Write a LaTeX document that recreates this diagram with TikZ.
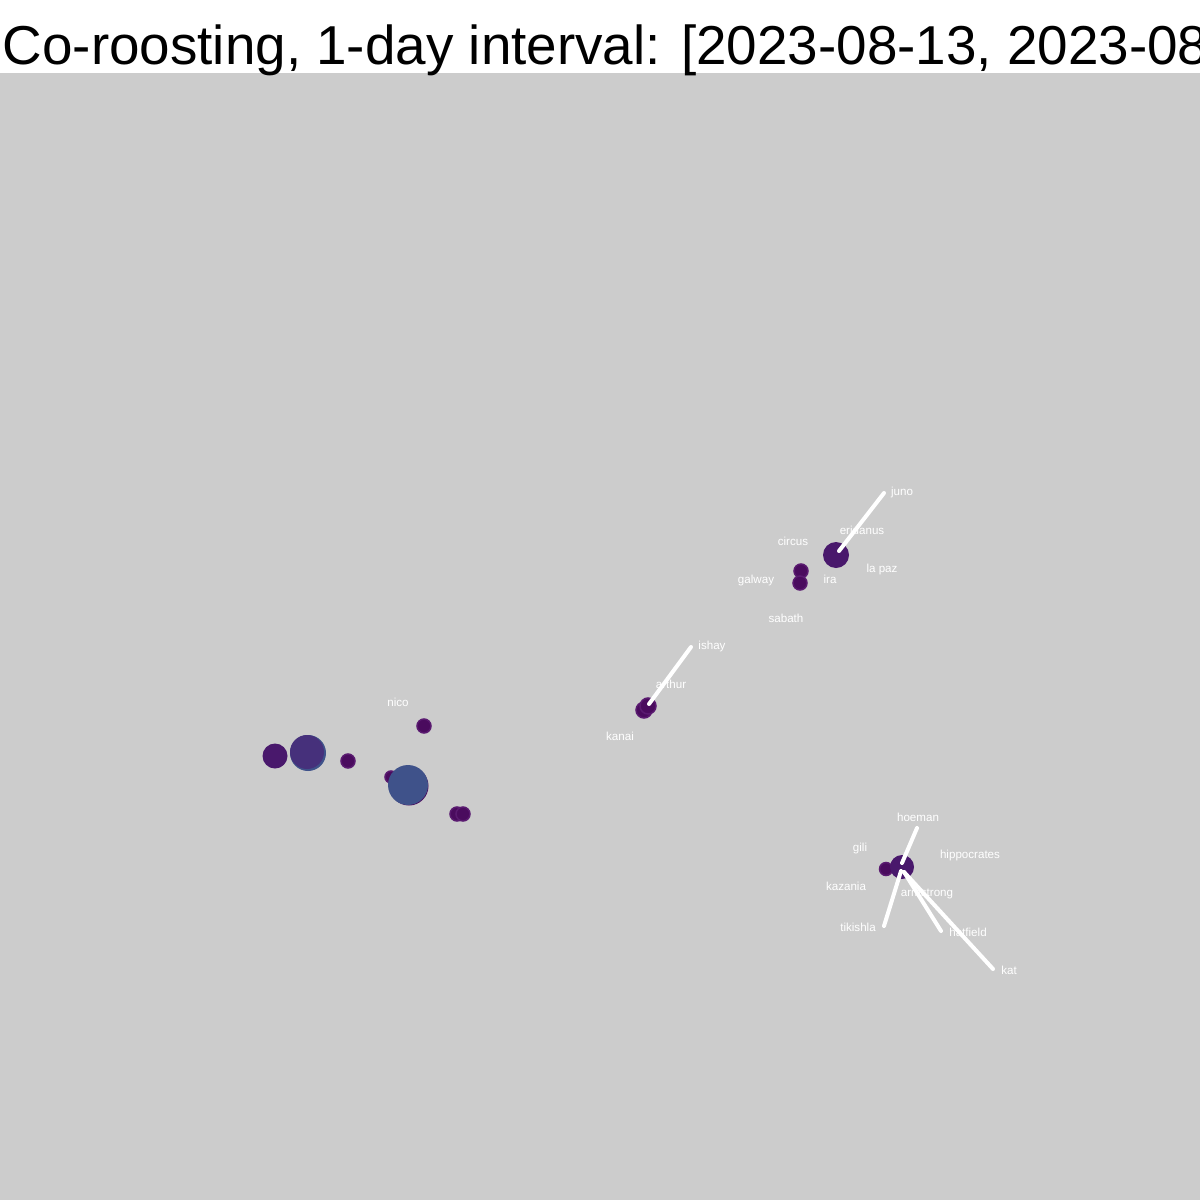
\documentclass[tikz,border=0pt]{standalone}
\usepackage{fontspec}
\setmainfont{Liberation Sans}
\usepackage{xcolor}
\usetikzlibrary{calc}

\definecolor{bggray}{HTML}{CCCCCC}
\definecolor{roostdark}{HTML}{4A0B5E}
\definecolor{roostring}{HTML}{5A1A70}
\definecolor{roostmid}{HTML}{49186C}
\definecolor{roostviolet}{HTML}{46307B}
\definecolor{roostblue}{HTML}{3F528A}

\begin{document}
\begin{tikzpicture}[x=0.1mm, y=-0.1mm,
    lbl/.style={text=white, inner sep=0pt, font=\fontsize{3.3pt}{4pt}\selectfont},
    edge/.style={draw=white, line width=0.4mm, line cap=round},
    roost/.style={fill=roostdark, draw=roostring, line width=0.15mm}]

    % 背景与标题
    \useasboundingbox (0,0) rectangle (1200,1200);
    \fill[bggray] (0,73) rectangle (1200,1200);
    \node[anchor=base west, inner sep=0pt, font=\fontsize{15.6pt}{18pt}\selectfont] (title) at (2,65)
        {Co-roosting, 1-day interval: [2023-08-13, 2023-08};

    % 左侧栖息点
    \fill[roostmid] (275,756) circle (12.5);
    \fill[roostblue] (308,753) circle (18);
    \fill[roostviolet] (307,752) circle (17);
    \fill[roost] (348,761) circle (7);
    \fill[roost] (424,726) circle (7);
    \fill[roost] (391,777) circle (6);
    \fill[roostdark] (409,786) circle (19.5);
    \fill[roostblue] (408,785) circle (20);
    \fill[roost] (457,814) circle (7);
    \fill[roost] (463,814) circle (7);
    \node[lbl] (nico) at (398,702) {nico};

    % 中部：arthur / ishay / kanai
    \fill[roost] (644,710) circle (8);
    \fill[roost] (648,706) circle (8);
    \coordinate (c-arthur) at (649,704);
    \coordinate (e-ishay) at (691,647);
    \draw[edge] (c-arthur) -- (e-ishay);
    \node[lbl] (ishay) at (712,646) {ishay};
    \node[lbl] (arthur) at (671,684) {arthur};
    \node[lbl] (kanai) at (620,736) {kanai};

    % 右上：eridanus 群
    \fill[roostmid] (836,555) circle (13);
    \fill[roost] (801,571) circle (7);
    \fill[roost] (800,583) circle (7);
    \coordinate (c-eridanus) at (839,551);
    \coordinate (e-juno) at (884,493);
    \draw[edge] (c-eridanus) -- (e-juno);
    \node[lbl] (juno) at (902,492) {juno};
    \node[lbl] (eridanus) at (862,530) {eridanus};
    \node[lbl] (circus) at (793,541) {circus};
    \node[lbl] (lapaz) at (882,569) {la paz};
    \node[lbl] (galway) at (756,580) {galway};
    \node[lbl] (ira) at (830,579) {ira};
    \node[lbl] (sabath) at (786,618) {sabath};

    % 右下：armstrong 群
    \fill[roost] (886,869) circle (6.5);
    \fill[roostmid] (902,867) circle (12);
    \coordinate (c-top) at (902,863);
    \coordinate (c-low) at (901,871);
    \coordinate (c-right) at (904,872);
    \coordinate (e-hoeman) at (917,828);
    \coordinate (e-tikishla) at (884,926);
    \coordinate (e-hatfield) at (941,931);
    \coordinate (e-kat) at (993,969);
    \draw[edge] (c-top) -- (e-hoeman);
    \draw[edge] (c-low) -- (e-tikishla);
    \draw[edge] (c-right) -- (e-hatfield);
    \draw[edge] (c-right) -- (e-kat);
    \node[lbl] (hoeman) at (918,817) {hoeman};
    \node[lbl] (gili) at (860,848) {gili};
    \node[lbl] (hippocrates) at (970,855) {hippocrates};
    \node[lbl] (kazania) at (846,886) {kazania};
    \node[lbl] (armstrong) at (927,894) {armstrong};
    \node[lbl] (tikishla) at (858,927) {tikishla};
    \node[lbl] (hatfield) at (968,932) {hatfield};
    \node[lbl] (kat) at (1009,970) {kat};
\end{tikzpicture}
\end{document}
